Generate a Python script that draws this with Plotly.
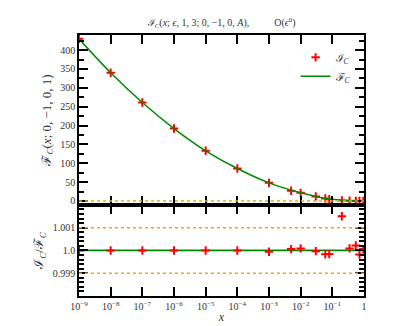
import plotly.graph_objects as go
from plotly.subplots import make_subplots

# Points
x_pts = [1e-9, 1e-8, 1e-7, 1e-6, 1e-5, 1e-4, 1e-3, 5e-3, 1e-2, 3e-2, 6e-2, 8e-2,
         0.2, 0.35, 0.55, 0.72, 0.95]
i_vals = [430, 340, 261, 192, 133, 86, 48, 27, 21.5, 12, 6.5, 4.5,
          1.5, 0.5, 0.2, 0.1, 0.0]
ratio_vals = [1.0, 1.0, 1.0, 1.0, 1.0, 1.0, 0.99994, 1.00006, 1.00009, 0.99997,
              0.99983, 0.99984, 1.0015, 1.00009, 1.00022, 0.99982, 1.00006]

# F_C curve
x_curve = [1e-9, 1e-8, 1e-7, 1e-6, 1e-5, 1e-4, 1e-3, 1e-2, 3e-2, 1e-1, 0.3, 1.0]
f_vals = [430, 340, 261, 192, 133, 86, 48, 21.5, 12, 4.5, 1.0, 0.0]
ratio_line = [1.0] * len(x_curve)

x_ticks = [1e-9, 1e-8, 1e-7, 1e-6, 1e-5, 1e-4, 1e-3, 1e-2, 1e-1, 1]
x_ticktext = ['10<sup>−9</sup>', '10<sup>−8</sup>', '10<sup>−7</sup>', '10<sup>−6</sup>',
              '10<sup>−5</sup>', '10<sup>−4</sup>', '10<sup>−3</sup>', '10<sup>−2</sup>',
              '10<sup>−1</sup>', '1']
top_ref = [0]
bottom_ref = [1.001, 0.999]
bottom_ticks = [0.999, 1.0, 1.001]
bottom_ticktext = ['0.999', '1.0', '1.001']

FONT = 'Liberation Serif'
RED = '#ff0000'
GREEN = '#008a00'
ORANGE = '#ffa500'

fig = make_subplots(rows=2, cols=1, shared_xaxes=True,
                    row_heights=[0.651, 0.349], vertical_spacing=0)

# panel superior
fig.add_trace(go.Scatter(
    x=x_pts, y=i_vals, mode='markers', name='ℐ<sub><i>C</i></sub>',
    marker=dict(symbol='cross-thin', size=6, line=dict(color=RED, width=2))
), row=1, col=1)
fig.add_trace(go.Scatter(
    x=x_curve, y=f_vals, mode='lines', name='ℱ<sub><i>C</i></sub>',
    line=dict(color=GREEN, width=1.5, shape='spline')
), row=1, col=1)

# panel inferior (cociente)
fig.add_trace(go.Scatter(
    x=x_curve, y=ratio_line, mode='lines', showlegend=False,
    line=dict(color=GREEN, width=1.8)
), row=2, col=1)
fig.add_trace(go.Scatter(
    x=x_pts, y=ratio_vals, mode='markers', showlegend=False,
    marker=dict(symbol='cross-thin', size=6, line=dict(color=RED, width=2))
), row=2, col=1)

for v in top_ref:
    fig.add_hline(y=v, line=dict(color=ORANGE, width=1.5, dash='dot'), row=1, col=1)
for v in bottom_ref:
    fig.add_hline(y=v, line=dict(color=ORANGE, width=1.5, dash='dot'), row=2, col=1)

axis_common = dict(showline=True, linecolor='black', linewidth=1.5, mirror='ticks',
                   ticks='inside', tickcolor='black', tickwidth=1.5,
                   showgrid=False, zeroline=False,
                   tickfont=dict(family=FONT, size=10, color='#333'))

fig.update_xaxes(type='log', range=[-9, 0], tickvals=x_ticks, ticktext=x_ticktext,
                 ticklen=9, **axis_common)
fig.update_xaxes(showticklabels=False, row=1, col=1)
fig.update_xaxes(title=dict(text='<i>x</i>', font=dict(family=FONT, size=12, color='#333'),
                            standoff=2), row=2, col=1)

fig.update_yaxes(range=[-10.5, 440], dtick=50, tick0=0, ticklen=9,
                 minor=dict(dtick=25, ticklen=5, ticks='inside', tickcolor='black'),
                 title=dict(text='ℱ<sub><i>C</i></sub>(<i>x</i>; 0, −1, 0, 1)',
                            font=dict(family=FONT, size=13, color='#333'), standoff=6),
                 row=1, col=1, **axis_common)
fig.update_yaxes(range=[0.998, 1.002], tickvals=bottom_ticks, ticktext=bottom_ticktext,
                 ticklen=9,
                 minor=dict(dtick=0.0002, tick0=0.998, ticklen=5, ticks='inside', tickcolor='black'),
                 title=dict(text='ℐ<sub><i>C</i></sub>/ℱ<sub><i>C</i></sub>',
                            font=dict(family=FONT, size=13, color='#333'), standoff=6),
                 row=2, col=1, **axis_common)

fig.update_layout(
    width=407, height=326,
    margin=dict(l=71, r=51, t=27, b=38),
    paper_bgcolor='white', plot_bgcolor='white',
    title=dict(text='ℐ<sub><i>C</i></sub>(<i>x</i>; <i>ϵ</i>, 1, 3; 0, −1, 0, <i>A</i>),'
                    '          O(<i>ϵ</i><sup>0</sup>)',
               x=0.525, xanchor='center', y=0.955, yanchor='middle',
               font=dict(family=FONT, size=10, color='#333')),
    legend=dict(x=0.76, y=0.97, xanchor='left', yanchor='top',
                bgcolor='rgba(0,0,0,0)', tracegroupgap=0,
                font=dict(family=FONT, size=11, color='#333')),
    showlegend=True,
)

fig.write_html("out.html")
